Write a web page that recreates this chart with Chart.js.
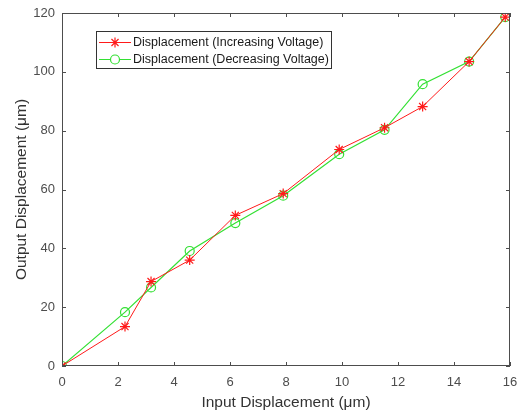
<!DOCTYPE html>
<html>
<head>
<meta charset="utf-8">
<script src="https://cdn.jsdelivr.net/npm/chart.js@4.4.1/dist/chart.umd.min.js"></script>
<style>
	html, body { margin: 0; padding: 0; background: #fff; }
	#wrap { width: 519px; height: 412px; }
</style>
</head>
<body>
<div id="wrap"><canvas id="dispChart" width="519" height="412"></canvas></div>
<script>
// values
const inputDisp = [0, 2.25, 3.18, 4.56, 6.19, 7.9, 9.9, 11.52, 12.88, 14.54, 15.83];
const increasingOut = [0, 13.4, 28.7, 36.0, 51.2, 58.6, 73.6, 81.0, 88.2, 103.5, 118.6];
const decreasingOut = [0, 18.3, 26.7, 39.1, 48.6, 57.9, 72.0, 80.3, 95.8, 103.5, 118.6];
const xTicks = [0, 2, 4, 6, 8, 10, 12, 14, 16];
const yTicks = [0, 20, 40, 60, 80, 100, 120];
const seriesNames = ["Displacement (Increasing Voltage)", "Displacement (Decreasing Voltage)"];

const RED = "#ff1a1a";
const GREEN = "#33e033";
const AXIS = "#4d4d4d";
const FONT = "'Liberation Sans', Arial, sans-serif";

const toPoints = (xs, ys) => xs.map((x, i) => ({ x: x, y: ys[i] }));

// box around plot, inward ticks, matlab-like legend
const framePlugin = {
	id: "frame",
	afterDraw(chart) {
		const ctx = chart.ctx;
		const a = chart.chartArea;
		const xs = chart.scales.x;
		const ys = chart.scales.y;
		ctx.save();
		ctx.strokeStyle = AXIS;
		ctx.lineWidth = 1;
		ctx.strokeRect(a.left + 0.5, a.top + 0.5, a.right - a.left - 1, a.bottom - a.top - 1);
		ctx.beginPath();
		xTicks.forEach((t) => {
			const px = Math.round(xs.getPixelForValue(t)) + 0.5;
			ctx.moveTo(px, a.bottom);
			ctx.lineTo(px, a.bottom - 4);
			ctx.moveTo(px, a.top);
			ctx.lineTo(px, a.top + 4);
		});
		yTicks.forEach((t) => {
			const py = Math.round(ys.getPixelForValue(t)) + 0.5;
			ctx.moveTo(a.left, py);
			ctx.lineTo(a.left + 4, py);
			ctx.moveTo(a.right, py);
			ctx.lineTo(a.right - 4, py);
		});
		ctx.stroke();

		// legend
		const lx = 96, ly = 31, lw = 235, lh = 37;
		ctx.fillStyle = "#fff";
		ctx.fillRect(lx, ly, lw, lh);
		ctx.strokeStyle = "#333";
		ctx.strokeRect(lx + 0.5, ly + 0.5, lw, lh);
		const rows = [
			{ y: ly + 11, color: RED, style: "star", fill: RED, r: 5 },
			{ y: ly + 28, color: GREEN, style: "circle", fill: "#fff", r: 4.5 },
		];
		rows.forEach((r, i) => {
			ctx.strokeStyle = r.color;
			ctx.lineWidth = 1;
			ctx.beginPath();
			ctx.moveTo(lx + 3, r.y + 0.5);
			ctx.lineTo(lx + 35, r.y + 0.5);
			ctx.stroke();
			ctx.fillStyle = r.fill;
			ctx.lineWidth = 1.2;
			Chart.helpers.drawPoint(ctx, { pointStyle: r.style, radius: r.r, borderWidth: 1.2 }, lx + 19, r.y + 0.5);
			ctx.fillStyle = "#1a1a1a";
			ctx.font = "12.5px " + FONT;
			ctx.textBaseline = "middle";
			ctx.fillText(seriesNames[i], lx + 37, r.y + 1);
		});
		ctx.restore();
	},
};

new Chart(document.getElementById("dispChart"), {
	type: "scatter",
	data: {
		datasets: [
			{
				label: seriesNames[0],
				data: toPoints(inputDisp, increasingOut),
				showLine: true,
				borderColor: RED,
				backgroundColor: RED,
				borderWidth: 1,
				pointStyle: "star",
				pointRadius: 5,
				pointBorderWidth: 1.2,
				pointBorderColor: RED,
			},
			{
				label: seriesNames[1],
				data: toPoints(inputDisp, decreasingOut),
				showLine: true,
				borderColor: GREEN,
				backgroundColor: "rgba(0,0,0,0)",
				borderWidth: 1.2,
				pointStyle: "circle",
				pointRadius: 4.5,
				pointBorderWidth: 1.2,
				pointBorderColor: GREEN,
			},
		],
	},
	options: {
		responsive: false,
		animation: false,
		layout: { padding: { top: 13, right: 9, left: 12, bottom: 0 } },
		plugins: {
			legend: { display: false },
			tooltip: { enabled: false },
		},
		scales: {
			x: {
				type: "linear",
				min: 0,
				max: 16,
				afterBuildTicks: (s) => { s.ticks = xTicks.map((v) => ({ value: v })); },
				afterFit: (s) => {
					s.height = 46;
					s.paddingLeft = 0;
					s.paddingRight = 0;
				},
				grid: { display: false, drawTicks: false },
				border: { display: false },
				ticks: { color: AXIS, font: { family: FONT, size: 13 }, padding: 9, maxRotation: 0 },
				title: { display: true, text: "Input Displacement (μm)", color: "#333", font: { family: FONT, size: 15.5 }, padding: { top: 0, bottom: 0 } },
			},
			y: {
				type: "linear",
				min: 0,
				max: 120,
				afterBuildTicks: (s) => { s.ticks = yTicks.map((v) => ({ value: v })); },
				afterFit: (s) => {
					s.width = 50;
					s.paddingTop = 0;
					s.paddingBottom = 0;
				},
				grid: { display: false, drawTicks: false },
				border: { display: false },
				ticks: { color: AXIS, font: { family: FONT, size: 13 }, padding: 7 },
				title: { display: true, text: "Output Displacement (μm)", color: "#333", font: { family: FONT, size: 15.5 }, padding: { top: 0, bottom: 0 } },
			},
		},
	},
	plugins: [framePlugin],
});
</script>
</body>
</html>
